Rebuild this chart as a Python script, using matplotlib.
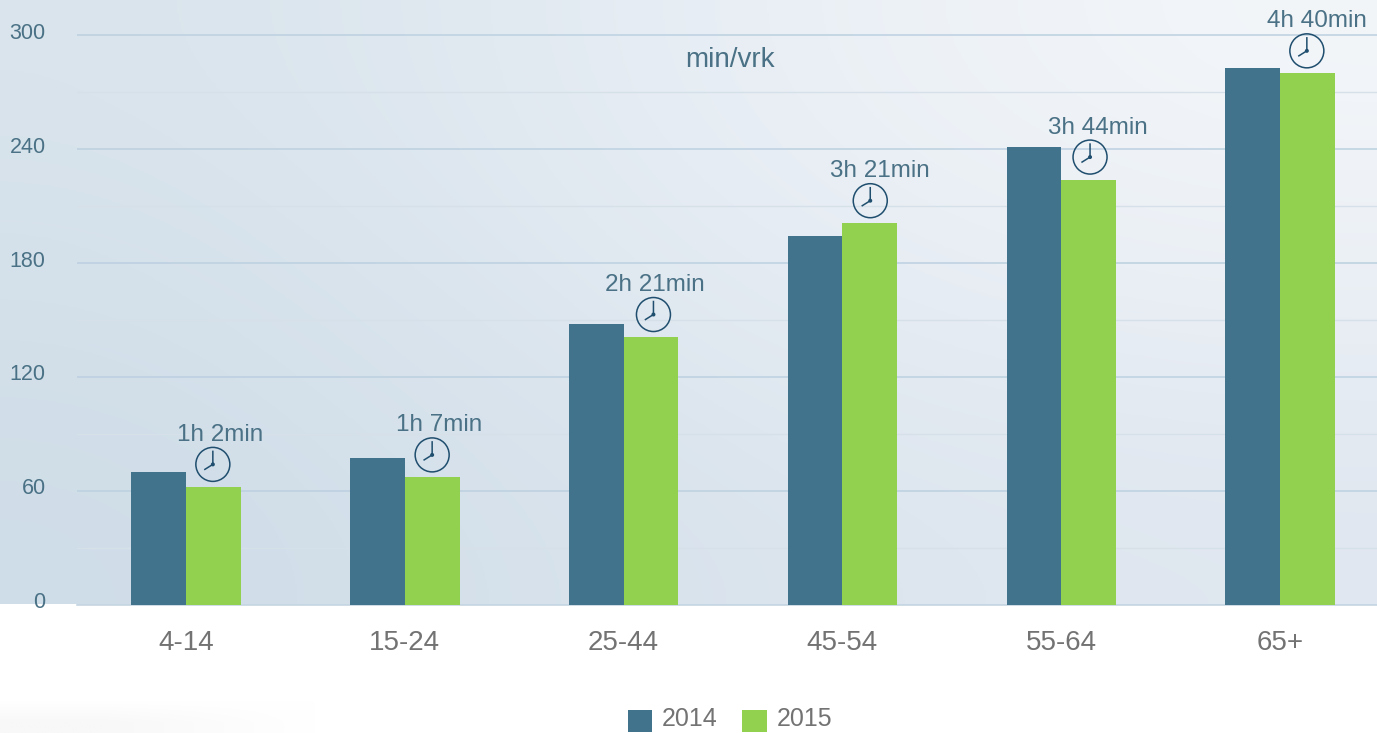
import matplotlib
matplotlib.use('Agg')
import matplotlib.pyplot as plt
import numpy as np
from matplotlib.colors import to_rgb
from matplotlib.lines import Line2D
from matplotlib.offsetbox import AnnotationBbox, DrawingArea
from matplotlib.patches import Circle
from matplotlib.transforms import ScaledTranslation

plt.rcParams['font.family'] = ['Liberation Sans', 'DejaVu Sans']

ages = ['4-14', '15-24', '25-44', '45-54', '55-64', '65+']
v2014 = [70, 77, 148, 194, 241, 283]
v2015 = [62, 67, 141, 201, 224, 280]
time_labels = ['1h 2min', '1h 7min', '2h 21min', '3h 21min', '3h 44min', '4h 40min']
y_ticks = [0, 60, 120, 180, 240, 300]
y_minor = [30, 90, 150, 210, 270]

BLUE = '#41738d'
GREEN = '#92d14f'
TXT_BLUE = '#4a7185'
GREY = '#737373'
NAVY = '#1f4e6e'
W, H = 1377, 733
BASE = 604.5
PX = 72 / 100  # one pixel in points

fig = plt.figure(figsize=(W / 100, H / 100), dpi=100, facecolor='white')

# background gradient, whole figure in pixel coords
bg = fig.add_axes([0, 0, 1, 1], zorder=0)
bg.axis('off')
grad = np.array([[to_rgb(c) for c in row] for row in [
    ['#d9e4ec', '#e8eef5', '#f3f6f9'],
    ['#d3e0ea', '#e3eaf2', '#eaeff5'],
    ['#cfdde8', '#dae4ed', '#e0e7f0'],
]])
bg.imshow(grad, extent=(0, W, BASE, 0), aspect='auto', interpolation='bicubic', zorder=0)
# faint smudge bottom left
smudge = np.array([[to_rgb(c) for c in row] for row in [
    ['#ffffff', '#ffffff'],
    ['#f8f8f8', '#ffffff'],
]])
bg.imshow(smudge, extent=(0, 420, H, 690), aspect='auto', interpolation='bilinear', zorder=0)
bg.set_xlim(0, W)
bg.set_ylim(H, 0)

# axes runs past the right side of the figure, like the source crop
left = 76.6
right = left + 6 * 218.8
ax = fig.add_axes([left / W, 1 - BASE / H, (right - left) / W, BASE / H], zorder=1)
ax.patch.set_alpha(0)

x = np.arange(len(ages))
bw = 0.25
b1 = ax.bar(x - bw / 2, v2014, bw, color=BLUE, label='2014', zorder=3)
b2 = ax.bar(x + bw / 2, v2015, bw, color=GREEN, label='2015', zorder=3)

ax.set_xlim(-0.5, 5.5)
ax.set_ylim(0, BASE / 1.897)
ax.set_yticks(y_ticks)
ax.set_yticks(y_minor, minor=True)
ax.set_xticks(x)
ax.set_xticklabels(ages, fontsize=20, color=GREY)
ax.tick_params(axis='x', length=0, pad=18)
ax.tick_params(axis='y', which='both', length=0, pad=22.3, labelsize=15.5, labelcolor=TXT_BLUE)
for lab in ax.get_yticklabels():
    lab.set_va('center')
    lab.set_transform(lab.get_transform() + ScaledTranslation(0, 2 * PX / 72, fig.dpi_scale_trans))
ax.grid(axis='y', which='major', color='#bcd0e0', linewidth=1.1, zorder=1)
ax.grid(axis='y', which='minor', color='#d6e0e9', linewidth=1.0, zorder=1)
for s in ['top', 'right', 'left']:
    ax.spines[s].set_visible(False)
ax.spines['bottom'].set_color('#c6d6e2')
ax.spines['bottom'].set_linewidth(1.2)

# clocks and time labels sit above the 2015 bar
label_dx = [7, 7, 4, 10, 9, 10]
clock_dx = [-0.5, 0, 2.5, 0.5, 1.5, -0.5]
for i, lab in enumerate(time_labels):
    da = DrawingArea(36 * PX, 36 * PX, 0, 0)
    c = 18 * PX
    da.add_artist(Circle((c, c), 17 * PX, fc='none', ec=NAVY, lw=1.1))
    da.add_artist(Line2D([c - 8 * PX, c, c], [c - 5 * PX, c, c + 13 * PX], color=NAVY, lw=1.1))
    da.add_artist(Circle((c, c), 2 * PX, fc=NAVY, ec='none'))
    ab = AnnotationBbox(da, (x[i] + bw / 2, v2015[i]), xybox=(clock_dx[i] * PX, 22.5 * PX), boxcoords='offset points',
                        frameon=False, pad=0, box_alignment=(0.5, 0.5), zorder=4)
    ax.add_artist(ab)
    ax.annotate(lab, (x[i] + bw / 2, v2015[i]), xytext=(label_dx[i] * PX, 52 * PX), textcoords='offset points',
                ha='center', va='center', fontsize=17.5, color=TXT_BLUE, zorder=5)

bg.text(730, 60, 'min/vrk', fontsize=20, color=TXT_BLUE, ha='center', va='center')

leg = fig.legend(handles=[b1, b2], loc='center', bbox_to_anchor=(729.5 / W, 1 - 719 / H), ncol=2, frameon=False,
                 fontsize=18, handlelength=1, handleheight=1, handletextpad=0.4, columnspacing=1.0,
                 borderpad=0, labelcolor=GREY)
for h in leg.legend_handles:
    h.set_y(h.get_y() - 3 * PX)
leg.legend_handles[0].set_x(leg.legend_handles[0].get_x() + 2 * PX)
leg.legend_handles[0].set_width(leg.legend_handles[0].get_width() - PX)

fig.savefig('out.png', dpi=100, facecolor='white')
